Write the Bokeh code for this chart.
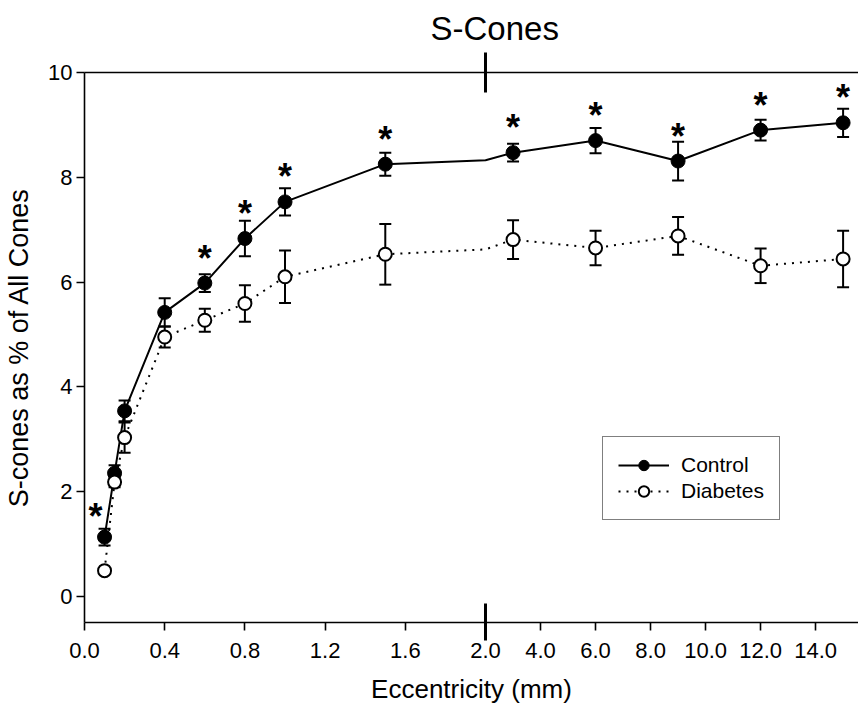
import numpy as np
from bokeh.plotting import figure
from bokeh.models import (ColumnDataSource, Range1d, FixedTicker, LinearAxis,
                          Legend, LegendItem)
from bokeh.core.properties import value
from bokeh.embed import file_html
from bokeh.resources import INLINE

# ---------------- data ----------------
eccentricity = [0.1, 0.15, 0.2, 0.4, 0.6, 0.8, 1.0, 1.5, 3.0, 6.0, 9.0, 12.0, 15.0]
control      = [1.13, 2.35, 3.54, 5.42, 5.98, 6.83, 7.53, 8.25, 8.47, 8.70, 8.31, 8.90, 9.04]
control_err  = [0.16, 0.15, 0.20, 0.27, 0.17, 0.34, 0.26, 0.22, 0.17, 0.24, 0.37, 0.20, 0.27]
diabetes     = [0.49, 2.18, 3.03, 4.95, 5.27, 5.59, 6.10, 6.53, 6.81, 6.65, 6.88, 6.31, 6.44]
diabetes_err = [0.05, 0.10, 0.29, 0.20, 0.22, 0.35, 0.50, 0.58, 0.37, 0.33, 0.36, 0.33, 0.54]
significant  = [True, False, False, False, True, True, True, True, True, True, True, True, True]

x_tick_values = [0.0, 0.4, 0.8, 1.2, 1.6, 2.0, 4.0, 6.0, 8.0, 10.0, 12.0, 14.0]
y_tick_values = [0, 2, 4, 6, 8, 10]

# ---------------- broken x axis ----------------
BREAK = 2.0
RIGHT_COMPRESSION = 27.5 / 200.5   # right segment scale relative to left segment
X_MAX = 15.56
Y_MIN, Y_MAX = -0.5, 10.0

W, H = 858, 712
BORDER_L, BORDER_T, BORDER_B = 84, 72, 90
FRAME_H = H - BORDER_T - BORDER_B
PX_PER_UNIT = FRAME_H / (Y_MAX - Y_MIN)


def fx(x):
    x = np.asarray(x, dtype=float)
    return np.where(x <= BREAK, x, BREAK + (x - BREAK) * RIGHT_COMPRESSION)


def broken_path(xs, ys):
    xs = np.asarray(xs, dtype=float)
    ys = np.asarray(ys, dtype=float)
    if xs.min() < BREAK < xs.max() and BREAK not in xs:
        yb = np.interp(BREAK, xs, ys)
        i = int(np.searchsorted(xs, BREAK))
        xs = np.insert(xs, i, BREAK)
        ys = np.insert(ys, i, yb)
    return fx(xs), ys


FONT = "Liberation Sans"
INK = "black"

p = figure(width=W, height=H, output_backend="svg", toolbar_location=None,
           x_range=Range1d(0, float(fx(X_MAX))), y_range=Range1d(Y_MIN, Y_MAX),
           min_border_left=BORDER_L, min_border_right=0, min_border_top=BORDER_T,
           min_border_bottom=BORDER_B)
p.outline_line_color = None
p.grid.visible = False
p.background_fill_color = "white"
p.border_fill_color = "white"

p.title.text = "S-Cones"
p.title.align = "left"
p.title.offset = 346
p.title.standoff = 12
p.title.text_font = FONT
p.title.text_font_size = "33px"
p.title.text_font_style = "normal"
p.title.text_color = INK

# bottom and left axes
for ax in (p.xaxis[0], p.yaxis[0]):
    ax.axis_line_width = 1.6
    ax.axis_line_color = INK
    ax.major_tick_line_width = 1.6
    ax.major_tick_line_color = INK
    ax.major_tick_in = 0
    ax.major_tick_out = 8
    ax.major_label_text_font = FONT
    ax.major_label_text_font_size = "22px"
    ax.major_label_text_color = INK
    ax.axis_label_text_font = FONT
    ax.axis_label_text_font_style = "normal"
    ax.axis_label_text_color = INK

xt = [float(v) for v in fx(x_tick_values)]
xbreak = float(fx(BREAK))
p.xaxis.ticker = FixedTicker(ticks=xt, minor_ticks=[xbreak])
p.xaxis.major_label_overrides = {v: f"{t:.1f}" for v, t in zip(xt, x_tick_values)}
p.xaxis.axis_label = "Eccentricity (mm)"
p.xaxis.axis_label_text_font_size = "26px"
p.xaxis.major_label_standoff = 2
p.xaxis.axis_label_standoff = 13
# the axis-break bar on the bottom axis
p.xaxis.minor_tick_line_color = INK
p.xaxis.minor_tick_line_width = 3
p.xaxis.minor_tick_in = 19
p.xaxis.minor_tick_out = 18

p.yaxis.ticker = FixedTicker(ticks=y_tick_values)
p.yaxis.minor_tick_line_color = None
p.yaxis.axis_label = "S-cones as % of All Cones"
p.yaxis.axis_label_text_font_size = "27px"
p.yaxis.major_label_standoff = 4
p.yaxis.axis_label_standoff = 11

# top frame line with the axis-break bar
top = LinearAxis(ticker=FixedTicker(ticks=[], minor_ticks=[xbreak]))
top.axis_line_width = 1.6
top.axis_line_color = INK
top.major_tick_out = 0
top.major_tick_in = 0
top.major_label_text_font_size = "0px"
top.minor_tick_line_color = INK
top.minor_tick_line_width = 3
top.minor_tick_in = 20
top.minor_tick_out = 20
p.add_layout(top, "above")

# ---------------- series ----------------
ex = fx(eccentricity)
ctrl = np.asarray(control)
ce = np.asarray(control_err)
diab = np.asarray(diabetes)
de = np.asarray(diabetes_err)

cx_line, cy_line = broken_path(eccentricity, control)
dx_line, dy_line = broken_path(eccentricity, diabetes)

ctrl_line = p.line(cx_line, cy_line, line_color=INK, line_width=2)
diab_line = p.line(dx_line, dy_line, line_color=INK, line_width=2, line_dash="2 6")

# error bars
p.segment(ex, ctrl - ce, ex, ctrl + ce, line_color=INK, line_width=2)
p.scatter(np.concatenate([ex, ex]), np.concatenate([ctrl - ce, ctrl + ce]),
          marker="dash", size=12, line_color=INK, line_width=2)
p.segment(ex, diab - de, ex, diab + de, line_color=INK, line_width=2)
p.scatter(np.concatenate([ex, ex]), np.concatenate([diab - de, diab + de]),
          marker="dash", size=12, line_color=INK, line_width=2)

ctrl_pts = p.scatter(ex, ctrl, marker="circle", size=14, fill_color=INK,
                     line_color=INK, line_width=1)
diab_pts = p.scatter(ex, diab, marker="circle", size=13, fill_color="white",
                     line_color=INK, line_width=2)

# significance stars (placed a fixed pixel distance above each control mean)
sig = np.asarray(significant)
first = ex < 0.12
star_lift_px = np.where(first, 21, 25)
star_dx = np.where(first, -9, 0)
star_src = ColumnDataSource(dict(x=ex[sig], y=(ctrl + star_lift_px / PX_PER_UNIT)[sig],
                                 dx=star_dx[sig], t=["*"] * int(sig.sum())))
p.text(x="x", y="y", text="t", x_offset="dx", source=star_src,
       text_font=value(FONT), text_font_size="36px", text_font_style="bold",
       text_align="center", text_baseline="alphabetic", text_color=INK)

# legend
legend = Legend(items=[LegendItem(label="Control", renderers=[ctrl_line, ctrl_pts]),
                       LegendItem(label="Diabetes", renderers=[diab_line, diab_pts])],
                location=(518, 102), orientation="vertical")
legend.border_line_color = INK
legend.border_line_width = 1.6
legend.background_fill_color = "white"
legend.background_fill_alpha = 1
legend.label_text_font = FONT
legend.label_text_font_size = "21px"
legend.label_text_color = INK
legend.glyph_width = 51
legend.glyph_height = 26
legend.label_height = 26
legend.spacing = 0
legend.padding = 15
legend.margin = 0
legend.label_standoff = 12
p.add_layout(legend)

open("out.html", "w").write(file_html(p, INLINE))
